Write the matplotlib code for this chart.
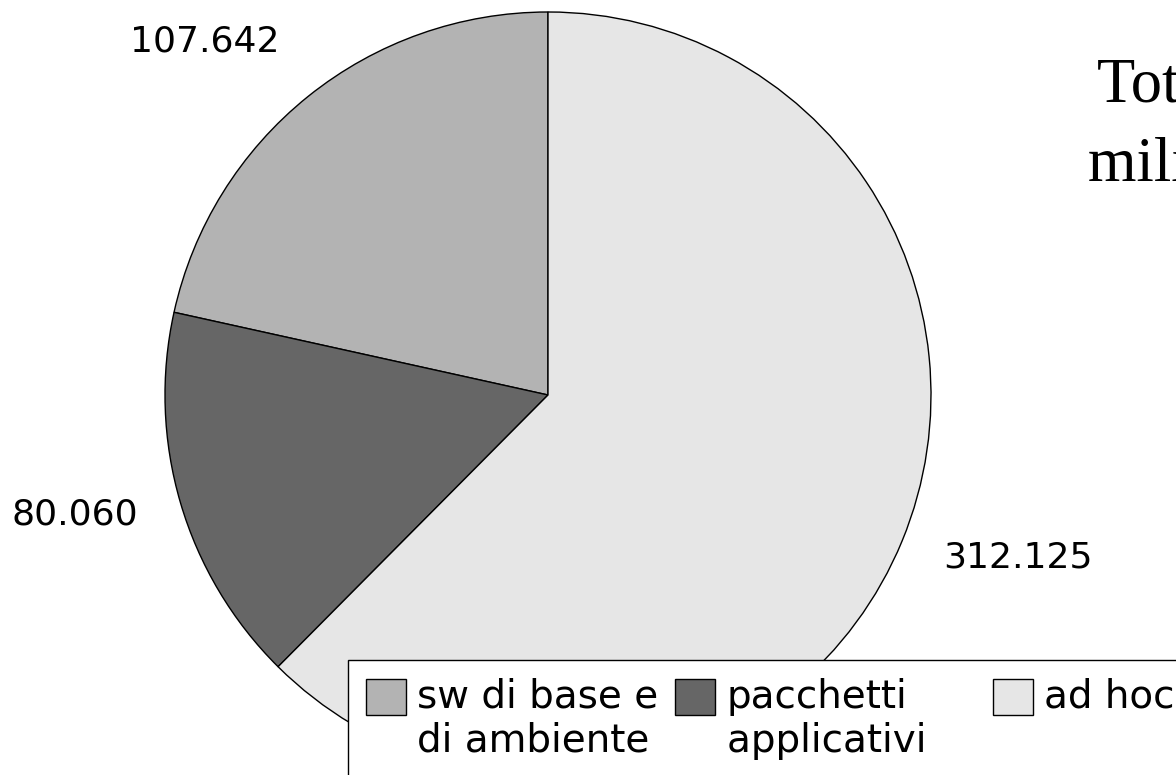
import matplotlib
matplotlib.use("Agg")
import matplotlib.pyplot as plt
from matplotlib.patches import Rectangle
from matplotlib.legend_handler import HandlerPatch

# data
categories = ["sw di base e\ndi ambiente", "pacchetti\napplicativi    ", "ad hoc\n"]
values = [107.642, 80.060, 312.125]
colors = ["#b3b3b3", "#666666", "#e6e6e6"]
title_lines = ["Totale 499.827", "milioni di lire"]

# label positions (data units, pie radius = 1)
label_pos = [(-0.896, 0.924), (-1.235, -0.311), (1.227, -0.423)]

W, H = 1176, 775
cx, cy, r = 548, 395, 383   # pie centre / radius in pixels
LEG_FS = 28


def top_box(legend, orig_handle, xdescent, ydescent, width, height, fontsize):
    # square aligned with the first line of a two-line label
    return Rectangle((-xdescent, -ydescent + 0.6 * fontsize), width, height)


fig = plt.figure(figsize=(W / 100, H / 100), dpi=100)
ax = fig.add_axes([0, 0, 1, 1])

wedges, _ = ax.pie(values, colors=colors, startangle=90, counterclock=True,
                   wedgeprops=dict(edgecolor="black", linewidth=1))
ax.set_xlim(-cx / r, (W - cx) / r)
ax.set_ylim(-(H - cy) / r, cy / r)
ax.set_aspect("equal")
ax.axis("off")

for v, (lx, ly) in zip(values, label_pos):
    ax.text(lx, ly, f"{v:.3f}", ha="center", va="center", fontsize=26,
            family="DejaVu Sans")

leg = ax.legend(wedges, categories, ncol=3, loc="upper left",
                bbox_to_anchor=(348 / W, 1 - 660 / H), bbox_transform=fig.transFigure,
                borderaxespad=0, fontsize=LEG_FS, frameon=True, fancybox=False,
                edgecolor="black", framealpha=1, handlelength=1.03, handleheight=1.03,
                handletextpad=0.3, columnspacing=0.43, borderpad=0.45,
                handler_map={w: HandlerPatch(patch_func=top_box) for w in wedges})
leg.get_frame().set_linewidth(1)

fig.text(1097 / W, 1 - 101 / H, title_lines[0], family="Liberation Serif",
         fontsize=45, ha="left", va="baseline")
fig.text(1088 / W, 1 - 182 / H, title_lines[1], family="Liberation Serif",
         fontsize=45, ha="left", va="baseline")

fig.savefig("out.png", dpi=100)
